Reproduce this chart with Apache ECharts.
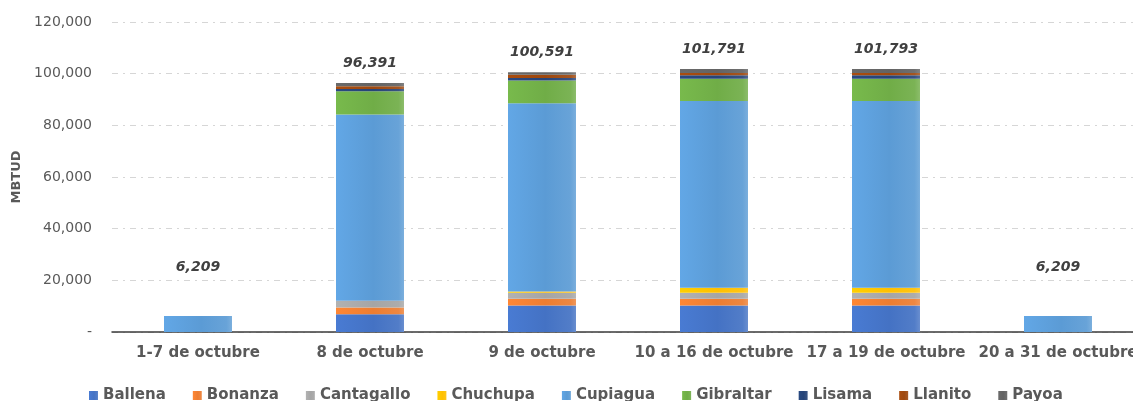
<!DOCTYPE html>
<html>
<head>
<meta charset="utf-8">
<title>MBTUD por campo - octubre</title>
<script src="https://cdn.jsdelivr.net/npm/echarts@6/dist/echarts.min.js"></script>
<style>
  html, body { margin: 0; padding: 0; background: #fff; overflow: hidden; }
  /* el grafico original queda cortado a la derecha */
  #chart { width: 1160px; height: 401px; }
</style>
</head>
<body>
<div id="chart"></div>
<script>
// periodos (eje x)
var categories = ['1-7 de octubre', '8 de octubre', '9 de octubre', '10 a 16 de octubre', '17 a 19 de octubre', '20 a 31 de octubre']

// MBTUD por campo
var ballena = [0, 6900, 10300, 10300, 10300, 0]
var bonanza = [0, 2600, 2600, 2600, 2600, 0]
var cantagallo = [0, 2600, 2300, 2300, 2300, 0]
var chuchupa = [0, 0, 500, 1900, 1900, 0]
var cupiagua = [6209, 72091, 72891, 72291, 72293, 6209]
var gibraltar = [0, 9000, 8800, 8650, 8650, 0]
var lisama = [0, 900, 900, 1300, 1300, 0]
var llanito = [0, 1000, 1300, 900, 900, 0]
var payoa = [0, 1300, 1000, 1550, 1550, 0]

var yTicks = [0, 20000, 40000, 60000, 80000, 100000, 120000]

var fields = [
  { name: 'Ballena', data: ballena, color: '#4472C4' },
  { name: 'Bonanza', data: bonanza, color: '#ED7D31' },
  { name: 'Cantagallo', data: cantagallo, color: '#A5A5A5' },
  { name: 'Chuchupa', data: chuchupa, color: '#FFC000' },
  { name: 'Cupiagua', data: cupiagua, color: '#5B9BD5' },
  { name: 'Gibraltar', data: gibraltar, color: '#70AD47' },
  { name: 'Lisama', data: lisama, color: '#264478' },
  { name: 'Llanito', data: llanito, color: '#9E480E' },
  { name: 'Payoa', data: payoa, color: '#636363' }
]

var totals = categories.map(function(c, i) {
  return fields.reduce(function(s, f) { return s + f.data[i] }, 0)
})

var font = '"DejaVu Sans", sans-serif'

function fmt(v) {
  if (v === 0) return '-'
  return Math.round(v).toLocaleString('en-US')
}

// bisel aproximado: claro a la izquierda, oscuro a la derecha
// (lift negativo aclara, positivo oscurece)
function bevel(c) {
  return new echarts.graphic.LinearGradient(0, 0, 1, 0, [
    { offset: 0, color: echarts.color.lift(c, -0.08) },
    { offset: 0.55, color: c },
    { offset: 0.92, color: echarts.color.lift(c, 0.08) },
    { offset: 1, color: echarts.color.lift(c, 0.2) }
  ])
}

var series = fields.map(function(f) {
  return {
    name: f.name,
    type: 'bar',
    stack: 'total',
    barWidth: 68,
    // los ceros no se dibujan
    data: f.data.map(function(v) { return v === 0 ? '-' : v }),
    itemStyle: { color: bevel(f.color) },
    emphasis: { disabled: true }
  }
})

// serie invisible solo para la etiqueta del total
series.push({
  name: 'Total',
  type: 'bar',
  barWidth: 68,
  barGap: '-100%',
  silent: true,
  z: 1,
  itemStyle: { color: 'rgba(0,0,0,0)' },
  data: totals.map(function(v) {
    return { value: v, label: { distance: v < 20000 ? 42 : 13 } }
  }),
  label: {
    show: true,
    position: 'top',
    formatter: function(p) { return fmt(p.value) },
    fontFamily: font,
    fontSize: 14,
    fontWeight: 'bold',
    fontStyle: 'italic',
    color: '#404040'
  }
})

var chart = echarts.init(document.getElementById('chart'), null, { renderer: 'canvas' })
chart.setOption({
  animation: false,
  grid: { left: 112, right: 16, top: 22, bottom: 69 },
  legend: {
    data: fields.map(function(f) { return f.name }),
    left: 84,
    top: 383,
    itemWidth: 9,
    itemHeight: 9,
    itemGap: 27,
    icon: 'rect',
    textStyle: { fontFamily: font, fontSize: 15, fontWeight: 'bold', color: '#595959' }
  },
  xAxis: {
    type: 'category',
    data: categories,
    axisTick: { show: false },
    axisLine: { lineStyle: { color: '#3b3b3b', width: 1.5 } },
    axisLabel: {
      margin: 14,
      interval: 0,
      fontFamily: font,
      fontSize: 15,
      fontWeight: 'bold',
      color: '#595959'
    }
  },
  yAxis: {
    type: 'value',
    min: yTicks[0],
    max: yTicks[yTicks.length - 1],
    interval: yTicks[1] - yTicks[0],
    name: 'MBTUD',
    nameLocation: 'middle',
    nameGap: 88,
    nameTextStyle: { fontFamily: font, fontSize: 13, fontWeight: 'bold', color: '#595959' },
    axisLine: { show: false },
    axisTick: { show: false },
    axisLabel: {
      margin: 20,
      fontFamily: font,
      fontSize: 14,
      color: '#595959',
      formatter: fmt
    },
    splitLine: {
      lineStyle: { color: '#d6d6d6', width: 1, type: [6, 5, 2, 5] }
    }
  },
  series: series
})
</script>
</body>
</html>
